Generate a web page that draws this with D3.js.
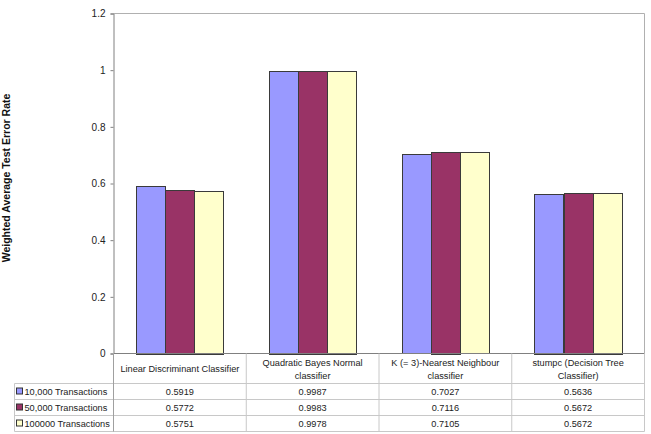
<!DOCTYPE html>
<html><head><meta charset="utf-8">
<script src="https://cdn.jsdelivr.net/npm/d3@7"></script>
<style>body{margin:0;background:#fff}svg{display:block}text{font-family:"Liberation Sans",Arial,sans-serif}</style>
</head><body>
<svg id="c" width="651" height="434"></svg>
<script>
const categories = ["Linear Discriminant Classifier","Quadratic Bayes Normal classifier","K (= 3)-Nearest Neighbour classifier","stumpc (Decision Tree Classifier)"];
const categoryLines = [["Linear Discriminant Classifier"],["Quadratic Bayes Normal","classifier"],["K (= 3)-Nearest Neighbour","classifier"],["stumpc (Decision Tree","Classifier)"]];
const seriesNames = ["10,000 Transactions","50,000 Transactions","100000 Transactions"];
const s10k = [0.5919,0.9987,0.7027,0.5636];
const s50k = [0.5772,0.9983,0.7116,0.5672];
const s100k = [0.5751,0.9978,0.7105,0.5672];
const yTicks = [0,0.2,0.4,0.6,0.8,1,1.2];
const colors = ["#9999FF","#993366","#FFFFCC"];
const series = [s10k,s50k,s100k];

const svg = d3.select("#c");
const L=113.5,R=644.5,T=13.5,B=353.5;
const x = d3.scaleBand().domain(categories).range([L,R]).paddingInner(0).paddingOuter(0);
const xs = d3.scaleBand().domain(d3.range(3)).range([0,x.bandwidth()]).paddingInner(0).paddingOuter(0.77);
const y = d3.scaleLinear().domain([0,1.2]).range([B,T]);

// plot border (top & right)
svg.append("path").attr("d",`M${L},${T}H${R}V${B}`).attr("fill","none").attr("stroke","#b0b0b0").attr("stroke-width",1);

// bars
categories.forEach((c,i)=>{
  series.forEach((s,j)=>{
    svg.append("rect")
      .attr("x",Math.round(x(c)+xs(j))+0.5)
      .attr("y",Math.round(y(s[i]))+0.5)
      .attr("width",Math.round(xs.bandwidth()))
      .attr("height",Math.round(y(0)-y(s[i])))
      .attr("fill",colors[j]).attr("stroke","#3a3a3a").attr("stroke-width",1);
  });
});

// y axis
const yAxis = d3.axisLeft(y).tickValues(yTicks).tickSize(3).tickPadding(5).tickFormat(d=>d3.format("")(d));
const ga = svg.append("g").attr("transform",`translate(${L},0)`).call(yAxis);
ga.select(".domain").attr("stroke","#808080");
ga.selectAll(".tick line").attr("stroke","#808080");
ga.selectAll("text").attr("font-size",10).attr("fill","#222").style("font-family","'Liberation Sans',Arial,sans-serif");

// y label
svg.append("text").attr("transform","translate(10,178) rotate(-90)")
  .attr("text-anchor","middle").attr("font-size",10.5).attr("font-weight","bold").attr("fill","#111")
  .text("Weighted Average Test Error Rate");

// data table
const grid="#c8c8c8";
const hT=B, hB=383.5, rowH=16;
const rowsY=[hB,hB+rowH,hB+2*rowH,hB+3*rowH];
const LL=14.5;
const fs=9.2;
svg.append("line").attr("x1",L).attr("x2",R).attr("y1",hT).attr("y2",hT).attr("stroke","#808080");
rowsY.forEach((ry,k)=>{
  svg.append("line").attr("x1",LL).attr("x2",R).attr("y1",ry).attr("y2",ry).attr("stroke",grid);
});
[...categories.map(c=>x(c)),R].forEach(vx=>{
  svg.append("line").attr("x1",vx).attr("x2",vx).attr("y1",hT).attr("y2",rowsY[3]).attr("stroke",grid);
});
svg.append("line").attr("x1",LL).attr("x2",LL).attr("y1",hB).attr("y2",rowsY[3]).attr("stroke",grid);
svg.append("line").attr("x1",L).attr("x2",L).attr("y1",hT).attr("y2",rowsY[3]).attr("stroke","#a0a0a0");

categories.forEach((c,i)=>{
  const lines=categoryLines[i];
  const cx=x(c)+x.bandwidth()/2;
  const cy=(hT+hB)/2;
  lines.forEach((ln,k)=>{
    svg.append("text").attr("x",cx).attr("y",cy+(k-(lines.length-1)/2)*13+3.5)
      .attr("text-anchor","middle").attr("font-size",fs).attr("fill","#222").text(ln);
  });
});
series.forEach((s,j)=>{
  const ry=rowsY[j];
  svg.append("rect").attr("x",16.5).attr("y",ry+4.5).attr("width",6).attr("height",6)
    .attr("fill",colors[j]).attr("stroke","#333");
  svg.append("text").attr("x",24.5).attr("y",ry+11.5).attr("font-size",fs).attr("fill","#222").text(seriesNames[j]);
  categories.forEach((c,i)=>{
    svg.append("text").attr("x",x(c)+x.bandwidth()/2).attr("y",ry+11.5)
      .attr("text-anchor","middle").attr("font-size",fs).attr("fill","#222").text(d3.format(".4f")(s[i]));
  });
});
</script>
</body></html>
